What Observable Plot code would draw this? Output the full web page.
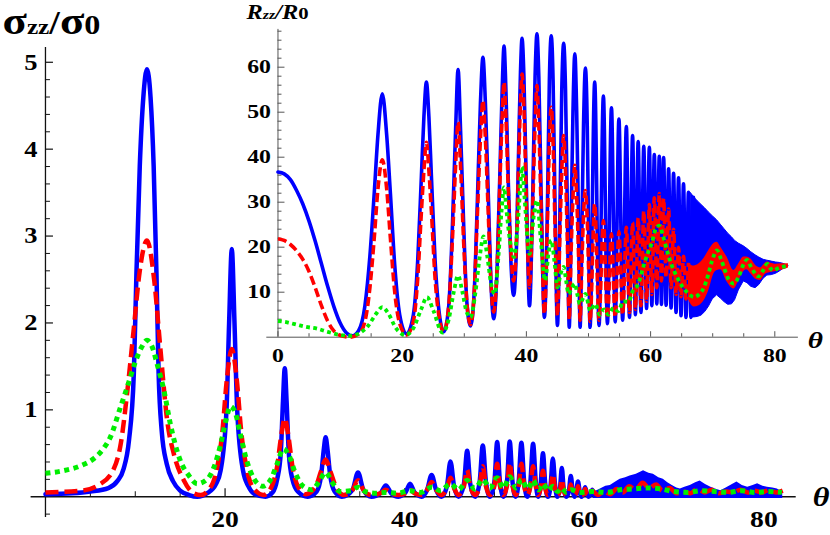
<!DOCTYPE html>
<html><head><meta charset="utf-8">
<script src="https://cdn.jsdelivr.net/npm/d3@7"></script>
<script src="https://cdn.jsdelivr.net/npm/@observablehq/plot@0.6"></script>
<style>
body{margin:0;background:#fff;}
#wrap{position:relative;width:830px;height:535px;overflow:hidden;}
#wrap svg{position:absolute;left:0;top:0;}
#wrap svg text, #wrap svg tspan{font-family:"Liberation Serif", "Times New Roman", serif !important;}
</style></head><body><div id="wrap"></div>
<script>
// ---------------- DATA ----------------
// Main chart (sigma_zz / sigma_0 vs theta)
const mainXDomain = [-1.6, 83.6];
const mainYDomain = [-0.24, 5.17];
const mainXMajor = [20, 40, 60, 80];
const mainXMinor = [5, 10, 15, 25, 30, 35, 45, 50, 55, 65, 70, 75];
const mainYMajor = [1, 2, 3, 4, 5];
const mainYMinor = [-0.2,0.2,0.4,0.6,0.8,1.2,1.4,1.6,1.8,2.2,2.4,2.6,2.8,3.2,3.4,3.6,3.8,4.2,4.4,4.6,4.8];
const mainTitleParts = [["σ",39],["zz",22],["/",33],["σ",39],["0",28]];
const axisLabel = "θ";

const mainBlue = [[0,0.03],[3,0.04],[5,0.06],[7,0.1],[8.0,0.18],[8.7,0.32],[9.3,0.65],[9.84,1.42],[10.13,2.57],[10.5,3.8],[10.9,4.6],[11.3,4.92],[11.7,4.6],[12.05,3.8],[12.36,2.57],[12.6,1.42],[12.95,0.75],[13.5,0.38],[14.2,0.18],[15,0.07],[16,0.02],[16.9,0.0],
[18,0.04],[19,0.15],[19.5,0.3],[20.16,1.0],[20.45,2.0],[20.75,2.85],[21.05,2.0],[21.35,1.0],[22.0,0.3],[22.6,0.12],[23.3,0.03],[24.5,0.0],
[25.3,0.05],[25.8,0.2],[26.2,0.5],[26.45,1.1],[26.65,1.48],[26.85,1.1],[27.1,0.5],[27.5,0.2],[28.1,0.06],[29.2,0.0],
[30.2,0.06],[30.7,0.25],[31.0,0.55],[31.2,0.685],[31.4,0.55],[31.7,0.25],[32.2,0.06],[33.0,0.0],
[34.2,0.08],[34.8,0.28],[35.4,0.08],[36.3,0.0],[37.3,0.04],[37.9,0.13],[38.5,0.04],[39.3,0.0],[40.1,0.05],[40.6,0.15],[41.1,0.05],[41.9,0.0],
[42.5,0.08],[43.0,0.25],[43.5,0.08],[44.1,0.0],[44.7,0.12],[45.1,0.405],[45.5,0.12],[46.0,0.0],[46.6,0.15],[46.96,0.53],[47.3,0.15],[47.85,0.0],
[48.35,0.17],[48.7,0.59],[49.05,0.17],[49.5,0.0],[50.0,0.18],[50.3,0.63],[50.6,0.18],[51.0,0.0],[51.4,0.18],[51.7,0.635],[52.0,0.18],[52.35,0.0],
[52.7,0.18],[53.0,0.62],[53.3,0.18],[53.65,0.0],[54.0,0.17],[54.3,0.61],[54.6,0.17],[54.85,0.0],[55.15,0.15],[55.4,0.5],[55.65,0.15],[55.95,0.0],
[56.25,0.13],[56.5,0.44],[56.75,0.13],[57.0,0.0],[57.3,0.1],[57.5,0.33],[57.7,0.1],[58.0,0.0],[58.3,0.07],[58.5,0.24],[58.7,0.07],[58.9,0.0],
[59.1,0.05],[59.3,0.175],[59.5,0.05],[59.7,0.0],[59.9,0.04],[60.1,0.11],[60.3,0.03],[60.5,0.0],[60.7,0.03],[60.9,0.08],[61.1,0.02]];

// dense oscillation region drawn as a band: [theta, lower, upper]
const mainBlueBand = [[61.0,-0.02,0.05],[61.8,-0.02,0.09],[62.4,-0.02,0.12],[62.9,-0.02,0.13],[63.5,-0.02,0.17],[64.0,-0.02,0.2],[64.6,-0.02,0.22],[65.1,-0.02,0.24],[65.8,-0.02,0.26],[66.6,-0.02,0.3],[67.2,-0.02,0.27],[67.7,-0.02,0.26],[68.3,-0.02,0.22],[68.8,-0.02,0.2],[69.3,-0.02,0.16],[69.8,-0.02,0.13],[70.3,-0.02,0.1],[70.7,-0.02,0.09],[71.2,-0.02,0.11],[71.8,-0.02,0.13],[72.4,-0.02,0.16],[72.9,-0.02,0.18],[73.5,-0.02,0.14],[74.1,-0.02,0.11],[74.6,-0.02,0.09],[75.2,-0.02,0.07],[75.8,-0.02,0.1],[76.3,-0.02,0.13],[77.0,-0.02,0.17],[77.6,-0.02,0.13],[78.2,-0.02,0.11],[78.8,-0.02,0.13],[79.3,-0.02,0.15],[79.9,-0.02,0.12],[80.4,-0.02,0.11],[81.0,-0.02,0.1],[81.5,-0.02,0.09],[82.1,-0.02,0.05]];

const mainRed = [[0,0.05],[4,0.07],[6,0.14],[7.6,0.32],[8.4,0.62],[9.1,1.2],[9.8,1.9],[10.5,2.6],[11.3,2.95],[12.1,2.5],[12.8,1.7],[13.55,0.88],[14.3,0.49],[15.4,0.19],[16.5,0.04],[17.3,0.02],
[18,0.06],[19,0.28],[19.7,0.75],[20.2,1.35],[20.75,1.7],[21.3,1.35],[21.8,0.75],[22.5,0.28],[23.3,0.08],[24.3,0.02],
[25.2,0.12],[25.8,0.35],[26.25,0.7],[26.65,0.9],[27.05,0.7],[27.5,0.35],[28.1,0.12],[29,0.03],
[30.1,0.12],[30.7,0.3],[31.2,0.43],[31.7,0.3],[32.4,0.1],[33.2,0.02],[34.2,0.08],[34.8,0.19],[35.4,0.08],[36.3,0.02],[37.3,0.04],[37.9,0.08],[38.5,0.04],[39.3,0.02],
[40.1,0.04],[40.6,0.08],[41.1,0.04],[41.9,0.02],[42.5,0.08],[43.0,0.17],[43.5,0.08],[44.1,0.02],[44.7,0.1],[45.1,0.22],[45.5,0.1],[46.0,0.02],[46.6,0.12],[46.96,0.31],[47.3,0.12],[47.85,0.02],
[48.35,0.12],[48.7,0.35],[49.05,0.12],[49.5,0.02],[50.0,0.13],[50.3,0.38],[50.6,0.13],[51.0,0.02],[51.4,0.13],[51.7,0.39],[52.0,0.13],[52.35,0.02],[52.7,0.13],[53.0,0.38],[53.3,0.13],[53.65,0.02],
[54.0,0.12],[54.3,0.35],[54.6,0.12],[54.85,0.02],[55.15,0.1],[55.4,0.3],[55.65,0.1],[55.95,0.02],[56.25,0.09],[56.5,0.26],[56.75,0.09],[57.0,0.02],[57.3,0.07],[57.5,0.2],[57.7,0.07],[58.0,0.02],
[58.3,0.05],[58.5,0.14],[58.7,0.05],[58.9,0.02],[59.1,0.04],[59.3,0.12],[59.5,0.04],[59.7,0.02],[59.9,0.03],[60.1,0.09],[60.3,0.03],[60.5,0.02],[60.7,0.03],[60.9,0.07],
[61.5,0.02],[62.2,0.06],[62.9,0.03],[63.6,0.09],[64.3,0.05],[65.0,0.12],[65.7,0.08],[66.5,0.16],[67.2,0.1],[68.0,0.14],[68.7,0.07],[69.5,0.1],[70.3,0.04],[71.0,0.06],[71.8,0.04],[72.6,0.09],[73.4,0.05],[74.2,0.08],[75.0,0.04],[75.8,0.06],[76.6,0.05],[77.4,0.08],[78.2,0.05],[79.0,0.07],[79.8,0.05],[80.6,0.08],[81.4,0.05],[82.1,0.07]];

const mainGreen = [[0,0.27],[2,0.3],[4,0.36],[5.4,0.44],[6.5,0.56],[7.2,0.68],[8.35,1.03],[9.1,1.26],[10,1.55],[10.7,1.72],[11.3,1.8],[11.9,1.72],[12.5,1.5],[13.2,1.22],[13.9,0.84],[15,0.42],[16,0.24],[16.9,0.15],
[18,0.2],[18.8,0.35],[19.5,0.6],[20.1,0.88],[20.6,1.04],[21.1,0.98],[21.7,0.72],[22.4,0.42],[23.2,0.21],[24.2,0.12],
[25.1,0.2],[25.8,0.38],[26.5,0.55],[27.1,0.48],[27.8,0.28],[28.7,0.12],[29.7,0.08],[30.5,0.18],[31.2,0.28],[31.9,0.17],[32.8,0.06],[34,0.07],[34.8,0.11],[35.6,0.06],[36.8,0.04],[37.9,0.05],[39.2,0.04],[40.6,0.07],[41.8,0.05],
[43,0.11],[44,0.07],[45.1,0.15],[46,0.08],[46.96,0.19],[47.8,0.09],[48.7,0.2],[49.5,0.1],[50.3,0.22],[51,0.1],[51.7,0.23],[52.4,0.1],[53,0.2],[53.7,0.09],[54.3,0.19],[54.9,0.08],[55.4,0.15],[56,0.07],[56.5,0.12],[57,0.06],[57.5,0.1],[58,0.05],[58.5,0.08],[59.5,0.05],
[61,0.06],[62.5,0.05],[64,0.08],[65.5,0.09],[67,0.1],[68.5,0.09],[70,0.06],[71.5,0.05],[73,0.07],[74.5,0.06],[76,0.05],[77.5,0.07],[79,0.05],[80.5,0.06],[82,0.05]];

// Inset chart (R_zz / R_0 vs theta)
const insetXDomain = [-1.8, 83.8];
const insetYDomain = [0, 68.4];
const insetXMajor = [0, 20, 40, 60, 80];
const insetXMinor = [5,10,15,25,30,35,45,50,55,65,70,75];
const insetYMajor = [10, 20, 30, 40, 50, 60];
const insetYMinor = [2,4,6,8,12,14,16,18,22,24,26,28,32,34,36,38,42,44,46,48,52,54,56,58,62,64,66,68];
const insetTitleParts = [["R",20,"italic"],["zz",13,"italic"],["/",20,"italic"],["R",20,"italic"],["0",17,"normal"]];

const insetBlue = [[0,36.7],[1,36.3],[2,35.0],[3,32.6],[4,29.6],[5,25.8],[6,21.3],[7,16.3],[8,11.3],[9,6.8],[10,3.2],[11,1.0],[12,0.3],[13,1.5],[14,7],[14.8,18],[15.5,32],[16.1,45],[16.8,54.1],[17.5,45],[18.1,32],[18.8,16],[19.6,5],[20.7,0.75],
[21.8,5],[22.5,17],[23.1,36],[23.5,49],[23.9,56.7],[24.3,49],[24.7,36],[25.3,17],[26.0,5],[26.7,1.2],[27.5,7],[28.1,25],[28.6,46],[29.0,59.5],[29.4,46],[29.9,25],[30.4,8],[31.0,2.5],
[31.6,10],[32.1,30],[32.6,52],[33.0,62.2],[33.4,52],[33.9,30],[34.3,12],[34.75,4.1],[35.3,16],[35.8,40],[36.1,55],[36.4,64.7],[36.7,55],[37.1,34],[37.5,17],[37.95,9.3],
[38.4,20],[38.8,45],[39.05,59],[39.3,66.4],[39.6,58],[40.0,33],[40.5,7],[41.0,30],[41.4,58],[41.7,67.4],[42.0,58],[42.4,30],[42.9,4.4],[43.4,30],[43.7,57],[44.0,67.0],[44.3,57],[44.6,30],[45.0,2.6],
[45.4,28],[45.7,55],[46.0,65.3],[46.3,55],[46.6,28],[46.9,2.2],[47.2,25],[47.5,50],[47.8,63.0],[48.1,50],[48.4,25],[48.65,2.2],[48.95,25],[49.2,47],[49.5,59.8],[49.8,47],[50.0,25],[50.25,2.2],
[51.0,56.7],[51.7,2.6],[52.4,53.6],[53.05,3.0],[53.7,51.0],[54.3,3.4],[54.9,48.5],[55.5,3.8],[56.1,46.8],[56.6,4.4],[57.1,44.8],[57.55,5.0],[58.0,43.5],[58.45,5.5],[58.9,42.4],[59.35,6.4],[59.8,42.2],[60.2,7.0],
[60.6,40.6],[61.0,7.4],[61.4,40.2],[61.75,7.3],[62.1,39.9],[62.5,7.1],[62.9,37.4],[63.3,6.5],[63.7,36.4],[64.1,5.5],[64.5,35.4],[64.9,4.8],[65.3,34.1],[65.7,4.4],[66.1,32.2],[66.5,4.4],[66.9,31.1]];

const insetBlueBand = [[66.5,4.4,32.0],[67.0,4.4,31.1],[67.6,4.5,30.2],[68.2,4.8,29.4],[68.8,5.6,28.6],[69.4,6.8,27.7],[70.0,8.4,26.9],[70.7,9.3,26.0],[71.3,8.6,25.0],[71.9,7.8,24.0],[72.5,7.2,23.0],[73.1,7.3,22.2],[73.6,8.2,21.4],[74.2,10.4,20.8],[75.0,12.4,20.2],[75.6,12.0,19.6],[76.2,11.2,18.9],[76.9,10.9,18.2],[77.5,11.6,17.7],[78.2,13.0,17.2],[78.8,13.7,17.0],[79.5,13.8,16.8],[80.2,14.1,16.6],[80.8,14.6,16.5],[81.4,15.2,16.3],[81.9,15.5,16.0],[82.2,15.7,15.9]];

const insetRed = [[0,21.9],[1,21.5],[2,20.6],[3,19.2],[4,17.3],[5,14.6],[6,11.0],[7,7.0],[8,3.6],[9,1.4],[10,0.4],[11.5,0.0],[13,0.7],[14,3.5],[14.8,11],[15.5,22],[16.1,33],[16.8,39.4],[17.5,33],[18.1,22],[18.8,10],[19.6,3],[20.7,0.5],
[21.8,3.5],[22.5,13],[23.1,28],[23.5,37],[23.9,43.3],[24.3,37],[24.7,28],[25.3,13],[26.0,4],[26.7,1.2],[27.5,7],[28.1,22],[28.6,38],[29.0,47.8],[29.4,38],[29.9,21],[30.4,8],[31.0,2.8],
[31.6,10],[32.1,27],[32.6,44],[33.0,52.6],[33.4,44],[33.9,26],[34.3,12],[34.75,5.6],[35.3,16],[35.8,37],[36.1,49],[36.4,56.7],[36.7,49],[37.1,32],[37.5,19],[37.95,12.5],
[38.4,21],[38.8,41],[39.05,52],[39.3,58.5],[39.6,51],[40.0,30],[40.5,11],[41.0,28],[41.4,47],[41.7,55.9],[42.0,47],[42.4,27],[42.9,5.2],[43.4,26],[43.7,43],[44.0,51.1],[44.3,43],[44.6,25],[45.0,4.8],
[45.4,23],[45.7,37],[46.0,44.8],[46.3,37],[46.6,21],[46.9,3.9],[47.2,19],[47.5,31],[47.8,38.2],[48.1,31],[48.4,18],[48.65,3.7],[48.95,17],[49.2,27],[49.5,32.6],[49.8,26],[50.0,16],[50.25,3.5],
[51.0,29.6],[51.7,3.8],[52.4,25.9],[53.05,4.2],[53.7,23.0],[54.3,4.5],[54.9,23.5],[55.5,5.0],[56.1,24.4],[56.6,5.5],[57.1,25.5],[57.55,6.2],[58.0,26.5],[58.45,7.0],[58.9,28.0],[59.35,8.0],[59.8,29.5],[60.2,9.5],
[60.6,31.0],[61.0,11.0],[61.4,31.9],[61.75,12.5],[62.1,30.8],[62.5,13.3],[62.9,28.5],[63.3,11.0],[63.7,24.0],[64.1,9.5],[64.5,20.0],[64.9,9.0],[65.3,18.0],[65.7,8.5],[66.1,16.5]];

const insetRedBand = [[66.1,8.3,16.5],[67.0,6.7,15.8],[67.8,7.0,16.3],[68.6,8.1,17.5],[69.4,10.5,19.3],[70.2,14.1,20.8],[70.7,14.8,21.1],[71.3,15.0,20.0],[72.3,12.3,17.8],[73.4,10.7,14.8],[74.2,12.5,16.3],[75.0,14.6,17.8],[75.5,15.0,17.8],[76.2,14.0,17.3],[77.0,12.8,15.8],[77.7,12.6,15.4],[78.5,14.0,16.5],[78.8,14.2,16.7],[79.3,14.4,16.5],[80.2,14.6,16.2],[81.0,14.9,16.3],[81.4,15.0,16.3],[82.2,15.4,16.3]];

const insetGreen = [[0,3.6],[1.5,3.3],[3,2.8],[4.5,2.3],[6.3,1.9],[8,1.2],[10,0.5],[11.5,0.3],[13,0.8],[14.5,2.5],[15.8,5.2],[16.8,6.7],[17.8,5.2],[19,2],[20.5,0.5],[21.8,2],[23,6],[24,8.9],[25,6],[26.5,1.0],[27.5,4],[28.3,10],[29,13.7],[29.7,10],[30.4,5.5],[31,4.4],
[31.8,10],[32.5,18],[33.1,22.4],[33.7,18],[34.3,12],[34.9,9.6],[35.5,18],[36,28],[36.4,33.3],[36.8,28],[37.4,21],[38,17.8],[38.6,25],[39,33],[39.3,37.9],[39.7,31],[40.5,18.5],[41.2,27],[41.7,30.4],[42.3,22],[43,12.6],
[43.6,19],[44.0,21.5],[44.5,17],[45,11.1],[45.5,14],[46,15.6],[46.4,12.5],[46.8,9.6],[47.3,11],[47.8,11.9],[48.2,9.5],[48.6,7.4],[49.1,8.6],[49.5,9.6],[50.3,5.9],[51.1,7.4],[51.8,5.0],[52.5,6.2],[53.2,5.0],[54.0,6.5],[54.8,5.8],[55.6,8],[56.4,7.8],[57.2,10.5],[58,11.8],
[58.8,15.5],[59.5,18.5],[60.2,21],[60.8,24],[61.4,24.8],[62,22.5],[62.7,19],[63.4,16],[64.2,13.5],[65,11.5],[66,9.8],[67,8.9],[67.8,9.5],[68.6,11.1],[69.3,14],[69.9,17],[70.7,19.3],[71.3,17.5],[71.8,15.6],[72.5,13],[73.4,11.9],[74.2,13.5],[75.0,16.3],[75.5,17.2],[76.1,15.8],[76.6,14.6],[77.4,13.5],[78.1,14.8],[78.8,16.3],[79.3,15.3],[79.8,14.8],[80.5,15.3],[81.2,15.6],[82,15.9]];

// ---------------- STYLE ----------------
const W = 830, H = 535;
const BLUE = "#0000ff", RED = "#ff0000", GREEN = "#00ee00";
const FONT = "Liberation Serif";
const mainM = {marginLeft: 30.6, marginRight: 34.3, marginTop: 47, marginBottom: 17.9};
const insetM = {marginLeft: 266.3, marginRight: 32.1, marginTop: 28.9, marginBottom: 198.3};
const mainPxX = (W - mainM.marginLeft - mainM.marginRight) / (mainXDomain[1] - mainXDomain[0]);
const mainPxY = (H - mainM.marginTop - mainM.marginBottom) / (mainYDomain[1] - mainYDomain[0]);
const insPxX = (W - insetM.marginLeft - insetM.marginRight) / (insetXDomain[1] - insetXDomain[0]);
const insPxY = (H - insetM.marginTop - insetM.marginBottom) / (insetYDomain[1] - insetYDomain[0]);
const X = d => d[0], Y = d => d[1];

const tickText = {fontFamily: FONT, fontWeight: "bold", fill: "black"};

const main = Plot.plot({
  width: W, height: H, ...mainM,
  x: {domain: mainXDomain, axis: null},
  y: {domain: mainYDomain, axis: null},
  style: {background: "transparent", overflow: "visible"},
  marks: [
    Plot.ruleY([0], {x1: mainXDomain[0], x2: mainXDomain[1], stroke: "#111", strokeWidth: 1.3}),
    Plot.ruleX([0], {y1: mainYDomain[0], y2: mainYDomain[1], stroke: "#111", strokeWidth: 1.3}),
    Plot.ruleX(mainXMajor, {x: d => d, y1: 0, y2: 8 / mainPxY, stroke: "#111", strokeWidth: 1.2}),
    Plot.ruleX(mainXMinor, {x: d => d, y1: 0, y2: 5 / mainPxY, stroke: "#111", strokeWidth: 1}),
    Plot.ruleY(mainYMajor, {y: d => d, x1: 0, x2: 8 / mainPxX, stroke: "#111", strokeWidth: 1.2}),
    Plot.ruleY(mainYMinor, {y: d => d, x1: 0, x2: 5 / mainPxX, stroke: "#111", strokeWidth: 1}),
    Plot.text(mainXMajor, {x: d => d, y: 0, text: d => String(d), dy: 23, fontSize: 24, ...tickText}),
    Plot.text(mainYMajor, {x: 0, y: d => d, text: d => String(d), textAnchor: "end", dx: -8, fontSize: 23, ...tickText}),
    Plot.areaY(mainBlueBand, {x: X, y1: d => d[1], y2: d => d[2], fill: BLUE, curve: "linear"}),
    Plot.line(mainBlue, {x: X, y: Y, stroke: BLUE, strokeWidth: 4.5, curve: "monotone-x"}),
    Plot.line(mainRed, {x: X, y: Y, stroke: RED, strokeWidth: 4.5, strokeDasharray: "13,6", strokeLinecap: "butt", curve: "monotone-x"}),
    Plot.line(mainGreen, {x: X, y: Y, stroke: GREEN, strokeWidth: 5, strokeDasharray: "5,4.5", strokeLinecap: "butt", curve: "monotone-x"}),
    Plot.text([axisLabel], {x: mainXDomain[1], y: 0, text: d => d, dx: 25, fontSize: 28, fontStyle: "italic", ...tickText}),
    Plot.text([mainTitleParts.map(p => p[0]).join("")], {frameAnchor: "top-left", text: d => d, dx: 2 - mainM.marginLeft, dy: -14, lineAnchor: "bottom", textAnchor: "start", fontSize: 38, ...tickText})
  ]
});

const inset = Plot.plot({
  width: W, height: H, ...insetM,
  x: {domain: insetXDomain, axis: null},
  y: {domain: insetYDomain, axis: null},
  style: {background: "transparent", overflow: "visible"},
  marks: [
    Plot.ruleY([0], {x1: insetXDomain[0], x2: insetXDomain[1], stroke: "#555", strokeWidth: 1}),
    Plot.ruleX([0], {y1: insetYDomain[0], y2: insetYDomain[1], stroke: "#555", strokeWidth: 1}),
    Plot.ruleX(insetXMajor, {x: d => d, y1: 0, y2: 5.5 / insPxY, stroke: "#555", strokeWidth: 1}),
    Plot.ruleX(insetXMinor, {x: d => d, y1: 0, y2: 3.5 / insPxY, stroke: "#555", strokeWidth: 1}),
    Plot.ruleY(insetYMajor, {y: d => d, x1: 0, x2: 7 / insPxX, stroke: "#555", strokeWidth: 1}),
    Plot.ruleY(insetYMinor, {y: d => d, x1: 0, x2: 4 / insPxX, stroke: "#555", strokeWidth: 1}),
    Plot.text(insetXMajor, {x: d => d, y: 0, text: d => String(d), dy: 19, fontSize: 19.5, ...tickText}),
    Plot.text(insetYMajor, {x: 0, y: d => d, text: d => String(d), textAnchor: "end", dx: -7, fontSize: 19.5, ...tickText}),
    Plot.line(insetBlue, {x: X, y: Y, stroke: BLUE, strokeWidth: 3.6, curve: "monotone-x"}),
    Plot.areaY(insetBlueBand, {x: X, y1: d => d[1], y2: d => d[2], fill: BLUE, stroke: BLUE, strokeWidth: 1, curve: "linear"}),
    Plot.line(insetRed, {x: X, y: Y, stroke: RED, strokeWidth: 3.6, strokeDasharray: "9,4", strokeLinecap: "butt", curve: "monotone-x"}),
    Plot.areaY(insetRedBand, {x: X, y1: d => d[1], y2: d => d[2], fill: RED, curve: "monotone-x"}),
    Plot.line(insetGreen, {x: X, y: Y, stroke: GREEN, strokeWidth: 3.8, strokeDasharray: "3.8,3.4", strokeLinecap: "butt", curve: "monotone-x"}),
    Plot.text([axisLabel], {x: insetXDomain[1], y: 0, text: d => d, dx: 17, dy: 3, fontSize: 24, fontStyle: "italic", ...tickText}),
    Plot.text([insetTitleParts.map(p => p[0]).join("")], {frameAnchor: "top-left", text: d => d, dx: -20.3, dy: -10.9, lineAnchor: "bottom", textAnchor: "start", fontSize: 20, fontStyle: "italic", ...tickText})
  ]
});

// rich text for the titles (subscripts) and the slightly wide type of the original
function richify(svg, parts) {
  const full = parts.map(p => p[0]).join("");
  svg.querySelectorAll("text").forEach(t => {
    if (t.textContent === full) {
      t.textContent = "";
      for (const [s, size, style] of parts) {
        const ts = document.createElementNS("http://www.w3.org/2000/svg", "tspan");
        ts.textContent = s;
        ts.setAttribute("font-size", size);
        if (style) ts.setAttribute("font-style", style);
        t.appendChild(ts);
      }
    }
  });
}
function stretch(svg, s) {
  svg.querySelectorAll("text").forEach(t => {
    const tr = t.getAttribute("transform");
    if (tr) t.setAttribute("transform", tr + ` scale(${s},1)`);
    else {
      const x = +t.getAttribute("x") || 0, y = +t.getAttribute("y") || 0;
      t.setAttribute("x", 0); t.setAttribute("y", 0);
      t.setAttribute("transform", `translate(${x},${y}) scale(${s},1)`);
    }
  });
}
richify(main, mainTitleParts);
richify(inset, insetTitleParts);
stretch(main, 1.15);
stretch(inset, 1.22);

const wrap = document.getElementById("wrap");
wrap.appendChild(main);
wrap.appendChild(inset);
</script></body></html>
